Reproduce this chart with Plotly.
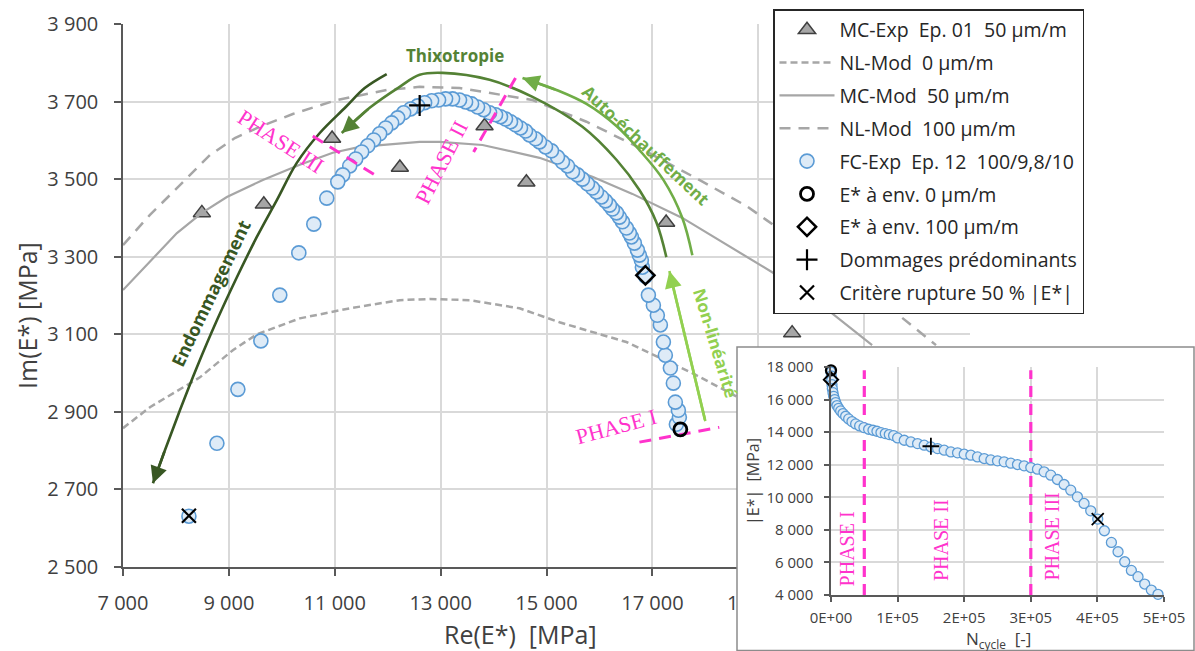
import plotly.graph_objects as go

W, H = 1195, 651
FONT = "Open Sans, Noto Sans, sans-serif"
SERIF = "Liberation Serif, DejaVu Serif, serif"

# ---------------- main chart data (Re(E*), Im(E*) in MPa) ----------------
mc_exp_re = [8490, 9660, 10950, 12230, 13830, 14620, 17260, 19640]
mc_exp_im = [3413, 3435, 3605, 3530, 3637, 3492, 3388, 3103]

nl0_re = [7000, 7509, 8453, 9075, 9528, 10340, 11283, 12226, 12792, 13547, 14491, 15245, 16509, 17755, 18585]
nl0_im = [2858, 2912, 2989, 3059, 3100, 3141, 3167, 3188, 3191, 3188, 3167, 3131, 3080, 3000, 2940]

mc_mod_re = [7000, 8019, 8491, 8962, 9642, 10340, 10962, 11472, 12604, 12981, 13792, 14868, 15868, 16623,
             17566, 18830, 19264, 20151, 21151]
mc_mod_im = [3214, 3361, 3413, 3454, 3498, 3537, 3568, 3583, 3596, 3596, 3588, 3555, 3506, 3462,
             3400, 3296, 3260, 3180, 3072]

nl100_re = [7000, 7509, 7887, 8264, 8642, 9113, 9585, 10208, 11038, 11981, 12604, 13358, 14736, 15755,
            16755, 17887, 18774, 19151, 21604, 22358]
nl100_im = [3330, 3408, 3459, 3511, 3562, 3606, 3635, 3668, 3704, 3730, 3738, 3735, 3704, 3648,
            3581, 3498, 3431, 3395, 3155, 3072]

fc_re = [17528, 17453, 17510, 17491, 17434, 17396, 17340, 17245, 17208, 17151, 17094, 17019, 16925, 16868,
         16811, 16792, 16755, 16717, 16660, 16604, 16566, 16509, 16434, 16377, 16321, 16245, 16189, 16113,
         16038, 15943, 15868, 15774, 15679, 15585, 15491, 15396, 15302, 15208, 15094, 14981, 14868, 14792,
         14679, 14604, 14509, 14415, 14321, 14226, 14132, 14038, 13925, 13811, 13698, 13585, 13472, 13358,
         13226, 13094, 12962, 12830, 12698, 12566, 12434, 12302, 12189, 12075, 11962, 11849, 11736, 11623,
         11509, 11396, 11283, 11151, 11057, 10849, 10604, 10321, 9962, 9604, 9170, 8774, 8245]
fc_im = [2855, 2868, 2886, 2904, 2925, 2974, 3013, 3046, 3080, 3124, 3149, 3175, 3201, 3250,
         3273, 3291, 3304, 3317, 3335, 3351, 3361, 3374, 3390, 3402, 3413, 3423, 3433, 3444,
         3454, 3467, 3477, 3488, 3500, 3511, 3519, 3534, 3544, 3557, 3573, 3583, 3596, 3604,
         3614, 3624, 3632, 3640, 3648, 3655, 3661, 3666, 3671, 3679, 3686, 3694, 3699, 3704,
         3707, 3707, 3704, 3702, 3697, 3689, 3681, 3671, 3658, 3645, 3632, 3617, 3601, 3586,
         3570, 3552, 3534, 3511, 3493, 3451, 3384, 3310, 3201, 3083, 2958, 2819, 2631]

env0_re, env0_im = [17528], [2855]
env100_re, env100_im = [16868], [3252]
dmg_re, dmg_im = [12604], [3690]
rupt_re, rupt_im = [8245], [2632]

# hand-drawn annotation curves (data coordinates)
endo_re = [11981, 11566, 11208, 10717, 10283, 9906, 9528, 9151, 8774, 8396, 8075, 7792, 7566]
endo_im = [3771, 3735, 3686, 3619, 3542, 3446, 3351, 3247, 3136, 3015, 2904, 2801, 2716]
thixo_re = [17264, 17075, 16755, 16321, 15679, 14736, 13925, 13038, 12604, 12226, 11660, 11132]
thixo_im = [3299, 3389, 3472, 3550, 3635, 3712, 3756, 3774, 3769, 3738, 3684, 3619]
auto_re = [17755, 17566, 17208, 16755, 16321, 15755, 15189, 14547]
auto_im = [3304, 3400, 3498, 3575, 3637, 3694, 3730, 3761]
nonlin_re = [18000, 17321]
nonlin_im = [2876, 3263]

phase1_re, phase1_im = [16755, 18264], [2822, 2860]
phase2_re, phase2_im = [14415, 13623], [3761, 3570]
phase3_re, phase3_im = [10585, 11849], [3611, 3503]

x_ticks = [7000, 9000, 11000, 13000, 15000, 17000, 19000, 21000, 23000]
x_ticktext = ["7 000", "9 000", "11 000", "13 000", "15 000", "17 000", "19 000", "", ""]
y_ticks = [2500, 2700, 2900, 3100, 3300, 3500, 3700, 3900]
y_ticktext = ["2 500", "2 700", "2 900", "3 100", "3 300", "3 500", "3 700", "3 900"]

# ---------------- inset data (N cycles, |E*| MPa) ----------------
n_cycle = [0, 500, 1000, 1500, 2000, 3000, 4000, 5500, 7000, 9000, 11500, 14500, 18000, 22000, 26500,
           31500, 37000, 43000, 49500, 56500, 63000, 69000, 75000, 81500, 87500, 94000, 100000, 110000,
           120000, 130000, 140000, 150000, 160000, 170000, 180000, 190000, 200000, 210000, 220000, 230000,
           240000, 250000, 260000, 270000, 280000, 290000, 300000, 310000, 320000, 330000, 340000, 350000,
           360000, 370000, 380000, 390000, 400500, 410500, 421000, 431000, 441000, 451000, 461000, 471000,
           481000, 491000]
e_norm = [17693, 17448, 17182, 16917, 16671, 16426, 16201, 15997, 15813, 15629, 15465, 15302, 15138, 14975,
          14811, 14648, 14505, 14382, 14280, 14178, 14116, 14055, 13973, 13912, 13851, 13789, 13646, 13503,
          13401, 13299, 13197, 13094, 12992, 12890, 12788, 12727, 12645, 12583, 12481, 12379, 12297, 12236,
          12175, 12093, 12011, 11929, 11827, 11725, 11561, 11357, 11091, 10785, 10437, 10028, 9620, 9170,
          8659, 7944, 7228, 6656, 6043, 5511, 5123, 4673, 4305, 4039]

in_env0_n, in_env0_e = [0], [17796]
in_env100_n, in_env100_e = [0], [17223]
in_dmg_n, in_dmg_e = [150000], [13135]
in_rupt_n, in_rupt_e = [400500], [8660]
in_phase_n = [50000, 300000]
in_phase_e = [4000, 17800]

n_ticks = [0, 100000, 200000, 300000, 400000, 500000]
n_ticktext = ["0E+00", "1E+05", "2E+05", "3E+05", "4E+05", "5E+05"]
e_ticks = [4000, 6000, 8000, 10000, 12000, 14000, 16000, 18000]
e_ticktext = ["4 000", "6 000", "8 000", "10 000", "12 000", "14 000", "16 000", "18 000"]

# ---------------- colours ----------------
GRAY = "#A6A6A6"
BLUE_EDGE = "#5B9BD5"
BLUE_FILL = "#DEEBF7"
MAGENTA = "#FF33CC"
G_DARK = "#385723"
G_MID = "#548235"
G_AUTO = "#70AD47"
G_LIGHT = "#92D050"
TXT = "#404040"

fig = go.Figure()

# ---- main (legend) traces ----
fig.add_trace(go.Scatter(x=mc_exp_re, y=mc_exp_im, mode="markers", name="MC-Exp  Ep. 01  50 µm/m",
                         legendgroup="a",
                         marker=dict(symbol="triangle-up", size=15, color=GRAY,
                                     line=dict(color="#404040", width=1.5))))
fig.add_trace(go.Scatter(x=nl0_re, y=nl0_im, mode="lines", name="NL-Mod  0 µm/m", legendgroup="b",
                         line=dict(color=GRAY, width=2.5, dash="7px,4px")))
fig.add_trace(go.Scatter(x=mc_mod_re, y=mc_mod_im, mode="lines", name="MC-Mod  50 µm/m", legendgroup="c",
                         line=dict(color=GRAY, width=2.2)))
fig.add_trace(go.Scatter(x=nl100_re, y=nl100_im, mode="lines", name="NL-Mod  100 µm/m", legendgroup="d",
                         line=dict(color=GRAY, width=2.5, dash="11px,8px")))

# decoration curves (no legend)
for xs, ys, col in [(endo_re, endo_im, G_DARK), (thixo_re, thixo_im, G_MID),
                    (auto_re, auto_im, G_AUTO), (nonlin_re, nonlin_im, G_LIGHT)]:
    fig.add_trace(go.Scatter(x=xs, y=ys, mode="lines", showlegend=False, hoverinfo="skip",
                             line=dict(color=col, width=2.6, shape="spline")))

fig.add_trace(go.Scatter(x=fc_re, y=fc_im, mode="markers", name="FC-Exp  Ep. 12  100/9,8/10", legendgroup="e",
                         marker=dict(symbol="circle", size=14, color=BLUE_FILL,
                                     line=dict(color=BLUE_EDGE, width=1.6))))

for xs, ys in [(phase1_re, phase1_im), (phase2_re, phase2_im), (phase3_re, phase3_im)]:
    fig.add_trace(go.Scatter(x=xs, y=ys, mode="lines", showlegend=False, hoverinfo="skip",
                             line=dict(color=MAGENTA, width=3, dash="12px,8px")))

fig.add_trace(go.Scatter(x=env0_re, y=env0_im, mode="markers", name="E* à env. 0 µm/m", legendgroup="f",
                         marker=dict(symbol="circle-open", size=13, color="black", line=dict(width=2.8))))
fig.add_trace(go.Scatter(x=env100_re, y=env100_im, mode="markers", name="E* à env. 100 µm/m", legendgroup="g",
                         marker=dict(symbol="diamond-open", size=14, color="black", line=dict(width=2.5))))
fig.add_trace(go.Scatter(x=dmg_re, y=dmg_im, mode="markers", name="Dommages prédominants", legendgroup="h",
                         marker=dict(symbol="cross-thin", size=15, color="black",
                                     line=dict(width=2.2, color="black"))))
fig.add_trace(go.Scatter(x=rupt_re, y=rupt_im, mode="markers", name="Critère rupture 50 % |E*|", legendgroup="i",
                         marker=dict(symbol="x-thin", size=14, color="black",
                                     line=dict(width=2.2, color="black"))))

# ---- cover panel for the inset (white background over the main chart) ----
fig.add_trace(go.Scatter(x=[0.5], y=[0.5], xaxis="x2", yaxis="y2", mode="markers", showlegend=False,
                         hoverinfo="skip", marker=dict(opacity=0)))

# ---- inset traces ----
for n in in_phase_n:
    fig.add_trace(go.Scatter(x=[n, n], y=in_phase_e, xaxis="x3", yaxis="y3", mode="lines", showlegend=False,
                             hoverinfo="skip", line=dict(color=MAGENTA, width=3.2, dash="11px,7px")))
fig.add_trace(go.Scatter(x=n_cycle, y=e_norm, xaxis="x3", yaxis="y3", mode="markers", showlegend=False,
                         cliponaxis=False,
                         marker=dict(symbol="circle", size=10, color=BLUE_FILL,
                                     line=dict(color=BLUE_EDGE, width=1.3))))
fig.add_trace(go.Scatter(x=in_env0_n, y=in_env0_e, xaxis="x3", yaxis="y3", mode="markers", showlegend=False,
                         cliponaxis=False,
                         marker=dict(symbol="circle-open", size=10, color="black", line=dict(width=2.3))))
fig.add_trace(go.Scatter(x=in_env100_n, y=in_env100_e, xaxis="x3", yaxis="y3", mode="markers", showlegend=False,
                         cliponaxis=False,
                         marker=dict(symbol="diamond-open", size=11, color="black", line=dict(width=2))))
fig.add_trace(go.Scatter(x=in_dmg_n, y=in_dmg_e, xaxis="x3", yaxis="y3", mode="markers", showlegend=False,
                         marker=dict(symbol="cross-thin", size=12, color="black",
                                     line=dict(width=1.8, color="black"))))
fig.add_trace(go.Scatter(x=in_rupt_n, y=in_rupt_e, xaxis="x3", yaxis="y3", mode="markers", showlegend=False,
                         marker=dict(symbol="x-thin", size=12, color="black",
                                     line=dict(width=1.8, color="black"))))

# ---------------- annotations ----------------
ann = []


def arrow(xs, ys, col):
    ann.append(dict(x=xs[-1], y=ys[-1], ax=xs[-2], ay=ys[-2], xref="x", yref="y", axref="x", ayref="y",
                    showarrow=True, arrowhead=2, arrowsize=1.3, arrowwidth=2.6, arrowcolor=col,
                    text="", standoff=0))


arrow(endo_re, endo_im, G_DARK)
arrow(thixo_re, thixo_im, G_MID)
arrow(auto_re, auto_im, G_AUTO)
arrow(nonlin_re, nonlin_im, G_LIGHT)


def label(text, x, y, col, size, angle=0, family=FONT, xref="x", yref="y"):
    ann.append(dict(text=text, x=x, y=y, xref=xref, yref=yref, showarrow=False, textangle=angle,
                    font=dict(family=family, size=size, color=col), xanchor="center", yanchor="middle"))


label("<b>Thixotropie</b>", 13264, 3820, G_MID, 17)
label("<b>Endommagement</b>", 8660, 3206, G_DARK, 18, -64.5)
label("<b>Auto-échauffement</b>", 16887, 3588, G_AUTO, 17, 43)
label("<b>Non-linéarité</b>", 18200, 3077, G_LIGHT, 17, 73)
label("PHASE I", 16321, 2862, MAGENTA, 22, -15, SERIF)
label("PHASE II", 13019, 3542, MAGENTA, 22, -63, SERIF)
label("PHASE III", 9981, 3596, MAGENTA, 22, 33, SERIF)

label("PHASE I", 24000, 6860, MAGENTA, 20, -90, SERIF, "x3", "y3")
label("PHASE II", 165000, 7370, MAGENTA, 20, -90, SERIF, "x3", "y3")
label("PHASE III", 331500, 7575, MAGENTA, 20, -90, SERIF, "x3", "y3")

# axis titles
label("Re(E*)  [MPa]", 520 / W, 1 - 634 / H, TXT, 25, 0, FONT, "paper", "paper")
label("Im(E*) [MPa]", 27 / W, 1 - 316 / H, TXT, 25, -90, FONT, "paper", "paper")
label("|E*|  [MPa]", 753 / W, 1 - 482 / H, TXT, 16, -90, FONT, "paper", "paper")
label("N<sub>cycle</sub>  [-]", 998 / W, 1 - 639 / H, TXT, 17, 0, FONT, "paper", "paper")

axis_common = dict(showgrid=True, gridcolor="#D9D9D9", gridwidth=1.5, zeroline=False, showline=True,
                   linecolor="#595959", linewidth=1.5, ticks="outside", tickcolor="#595959", tickwidth=1.5,
                   fixedrange=True)

fig.update_layout(
    width=W, height=H,
    margin=dict(l=0, r=0, t=0, b=0),
    paper_bgcolor="white", plot_bgcolor="white",
    font=dict(family=FONT, color=TXT),
    showlegend=True,
    xaxis=dict(domain=[123 / W, 970 / W], range=[7000, 23000], tickvals=x_ticks, ticktext=x_ticktext,
               tickfont=dict(size=20, color=TXT), ticklen=7, ticklabelstandoff=10, anchor="y",
               automargin=False, **axis_common),
    yaxis=dict(domain=[1 - 567 / H, 1 - 24 / H], range=[2500, 3900], tickvals=y_ticks, ticktext=y_ticktext,
               tickfont=dict(size=20, color=TXT), ticklen=7, ticklabelstandoff=12, anchor="x",
               automargin=False, **axis_common),
    xaxis2=dict(domain=[737 / W, 1.0], range=[0, 1], visible=True, showgrid=False, zeroline=False,
                showline=False, showticklabels=False, ticks="", anchor="y2", fixedrange=True, automargin=False),
    yaxis2=dict(domain=[0, 1 - 347 / H], range=[0, 1], visible=True, showgrid=False, zeroline=False,
                showline=False, showticklabels=False, ticks="", anchor="x2", fixedrange=True, automargin=False),
    xaxis3=dict(domain=[831 / W, 1164 / W], range=[0, 500000], tickvals=n_ticks, ticktext=n_ticktext,
                tickfont=dict(size=15, color=TXT), ticklen=5, ticklabelstandoff=3, anchor="y3",
                automargin=False, **axis_common),
    yaxis3=dict(domain=[1 - 595 / H, 1 - 367 / H], range=[4000, 18000], tickvals=e_ticks, ticktext=e_ticktext,
                tickfont=dict(size=15, color=TXT), ticklen=5, ticklabelstandoff=8, anchor="x3",
                automargin=False, **axis_common),
    legend=dict(x=773 / W, y=1 - 9 / H, xanchor="left", yanchor="top", bgcolor="white",
                bordercolor="#262626", borderwidth=1.5, font=dict(family=FONT, size=19.5, color="#262626"),
                itemwidth=55, traceorder="grouped", tracegroupgap=4.5),
    annotations=ann,
    shapes=[dict(type="rect", xref="paper", yref="paper", x0=737 / W, x1=1194 / W, y0=0.5 / H, y1=1 - 347 / H,
                 line=dict(color="#8C8C8C", width=1.5), fillcolor="rgba(0,0,0,0)", layer="above")],
)

fig.write_html("out.html", config={"displayModeBar": False},
               post_script="document.body.style.margin='0px';")
